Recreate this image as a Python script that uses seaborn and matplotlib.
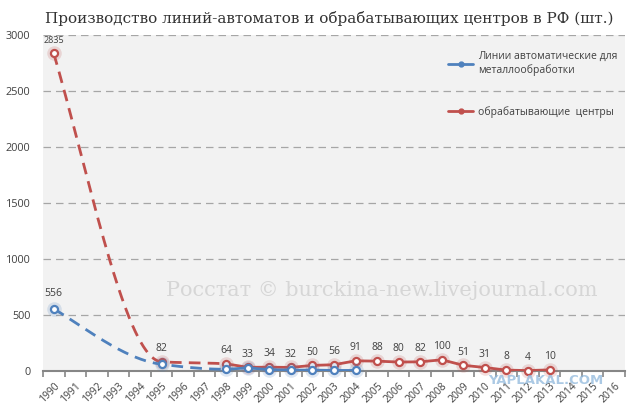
import numpy as np
import pandas as pd
import matplotlib
matplotlib.use("Agg")
import matplotlib.pyplot as plt
import seaborn as sns

# =========================
# data
# =========================
years = list(range(1990, 2017))

lines_years = [1990, 1995, 1998, 1999, 2000, 2001, 2002, 2003, 2004]
lines_values = [556, 60, 15, 28, 12, 8, 8, 5, 5]

centers_years = [1990, 1995, 1998, 1999, 2000, 2001, 2002, 2003, 2004,
                 2005, 2006, 2007, 2008, 2009, 2010, 2011, 2012, 2013]
centers_values = [2835, 82, 64, 33, 34, 32, 50, 56, 91,
                  88, 80, 82, 100, 51, 31, 8, 4, 10]

title = "Производство линий-автоматов и обрабатывающих центров в РФ (шт.)"
label_lines = "Линии автоматические для\nметаллообработки"
label_centers = "обрабатывающие  центры"

BLUE = "#4f81bd"
RED = "#c0504d"
GREY_TXT = "#404040"


def smooth(x, y, n=120):
    # monotone cubic path through the given points, for the dashed gap part
    x = np.asarray(x, float)
    y = np.asarray(y, float)
    h = np.diff(x)
    d = np.diff(y) / h
    m = np.zeros_like(y)
    for k in range(1, len(x) - 1):
        if d[k - 1] * d[k] > 0:
            w1 = 2 * h[k] + h[k - 1]
            w2 = h[k] + 2 * h[k - 1]
            m[k] = (w1 + w2) / (w1 / d[k - 1] + w2 / d[k])
    m[0] = 1.2 * d[0]
    m[-1] = d[-1]
    xs, ys = [], []
    for k in range(len(x) - 1):
        t = np.linspace(0, 1, n)
        h00 = 2 * t**3 - 3 * t**2 + 1
        h10 = t**3 - 2 * t**2 + t
        h01 = -2 * t**3 + 3 * t**2
        h11 = t**3 - t**2
        xs.append(x[k] + t * h[k])
        ys.append(h00 * y[k] + h10 * h[k] * m[k] + h01 * y[k + 1] + h11 * h[k] * m[k + 1])
    return np.concatenate(xs), np.concatenate(ys)


sns.set_style("white")
plt.rcParams["font.family"] = ["Open Sans", "DejaVu Sans"]

fig = plt.figure(figsize=(6.4, 4.13), dpi=100)
ax = fig.add_axes([43 / 640, 1 - 371 / 413, 582 / 640, 336 / 413])
ax.set_facecolor("#f2f2f2")

series = [
    (centers_years, centers_values, RED, 2),
    (lines_years, lines_values, BLUE, 3),
]

for yrs, vals, col, z in series:
    pos = [y - 1990 for y in yrs]
    # dashed smoothed part across the missing years
    sx, sy = smooth(pos[:4], vals[:4])
    keep = sx <= pos[2]
    sns.lineplot(x=sx[keep], y=sy[keep], ax=ax, color=col, lw=2.0,
                 linestyle=(0, (4.2, 2.6)), zorder=z, sort=False)
    # solid part
    sns.lineplot(x=pos[2:], y=vals[2:], ax=ax, color=col, lw=2.0, zorder=z)
    # glow + markers
    sns.scatterplot(x=pos, y=vals, ax=ax, s=110, color=col, alpha=0.18,
                    linewidth=0, zorder=z + 0.1, clip_on=False)
    sns.scatterplot(x=pos, y=vals, ax=ax, s=26, color="white", edgecolor=col,
                    linewidth=1.6, zorder=z + 0.2, clip_on=False)

# data labels
for yr, v in zip(centers_years, centers_values):
    ax.annotate(str(v), (yr - 1990, v), xytext=(0, 9.5), textcoords="offset points",
                ha="center", va="center", fontsize=6.5 if v > 1000 else 7.5,
                color=GREY_TXT, zorder=6)
ax.annotate(str(lines_values[0]), (0, lines_values[0]), xytext=(0, 11),
            textcoords="offset points", ha="center", va="center", fontsize=7.5,
            color=GREY_TXT, zorder=6)

# axes
ax.set_xlim(-0.5, len(years) - 0.5)
ax.set_ylim(0, 3000)
ax.set_yticks(range(0, 3001, 500))
ax.tick_params(axis="y", length=0, labelsize=7.8, labelcolor=GREY_TXT, pad=9)
ax.set_xticks(range(len(years)))
ax.set_xticklabels([str(y) for y in years], rotation=45, ha="right",
                   rotation_mode="anchor", fontsize=7.5, color=GREY_TXT)
ax.set_xticks(np.arange(-0.5, len(years), 1), minor=True)
ax.tick_params(axis="x", which="major", length=0, pad=7)
ax.tick_params(axis="x", which="minor", length=4, width=1.2, color="#868686",
               direction="out", bottom=True)
ax.set_xlabel("")
ax.set_ylabel("")
for gy in range(500, 3001, 500):
    ax.axhline(gy, color="#a6a6a6", lw=0.9, linestyle=(0, (6, 4)), zorder=1)
for s in ["top", "right", "left"]:
    ax.spines[s].set_visible(False)
ax.spines["bottom"].set_color("#868686")
ax.spines["bottom"].set_linewidth(1.5)
ax.spines["bottom"].set_zorder(1.5)

# legend
handles = [
    plt.Line2D([], [], color=BLUE, lw=2, marker="o", markersize=3.5),
    plt.Line2D([], [], color=RED, lw=2, marker="o", markersize=3.5),
]
fig.legend(handles, [label_lines, label_centers], loc="upper left",
           bbox_to_anchor=(443 / 640, 1 - 46 / 413), frameon=False,
           fontsize=7.5, labelspacing=2.9, handlelength=2.4, handletextpad=0.5,
           borderpad=0, labelcolor=GREY_TXT)

# title and watermarks
fig.text(329 / 640, 1 - 18 / 413, title, ha="center", va="center",
         family="DejaVu Serif", fontsize=11, color="#333333")
fig.text(382 / 640, 1 - 290 / 413, "Росстат © burckina-new.livejournal.com",
         ha="center", va="center", family="DejaVu Serif", fontsize=15,
         color="#d6d6d6", zorder=0.5)
fig.text(546 / 640, 1 - 381 / 413, "YAPLAKAL.COM", ha="center", va="center",
         family="DejaVu Sans", fontweight="bold", fontsize=9.5, color="#8fb8dc",
         alpha=0.75, zorder=10)

fig.savefig("out.png", dpi=100)
